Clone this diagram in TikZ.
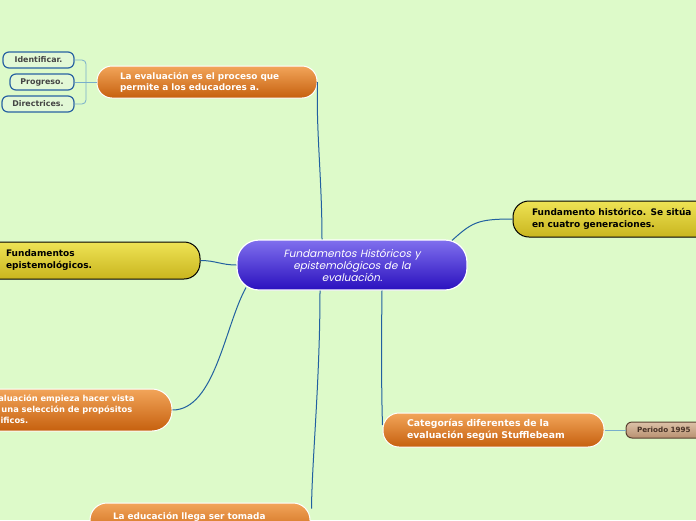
\documentclass[tikz,border=0pt]{standalone}
\usepackage{fontspec}
\setmainfont{DejaVu Sans}
\newfontfamily\centralfont[FakeSlant=0.2]{Poppins}
\usetikzlibrary{calc}
\definecolor{bgcol}{HTML}{DDFAC9}
\definecolor{purtop}{HTML}{8070EE}
\definecolor{purbot}{HTML}{2A10BE}
\definecolor{ortop}{HTML}{F2A55A}
\definecolor{orbot}{HTML}{C6600E}
\definecolor{yetop}{HTML}{EEE355}
\definecolor{yebot}{HTML}{C9B51E}
\definecolor{petop}{HTML}{DCC2A8}
\definecolor{pebot}{HTML}{B89070}
\definecolor{peline}{HTML}{5A4030}
\definecolor{conn}{HTML}{2160A0}
\definecolor{lconn}{HTML}{78AECB}
\definecolor{smfill}{HTML}{E2F8D6}
\definecolor{smline}{HTML}{2962A2}
\definecolor{smtext}{HTML}{444444}
\tikzset{
  box/.style={rectangle, inner sep=0pt, align=left},
  centralbox/.style={box, top color=purtop, bottom color=purbot, draw=white, line width=1.2pt,
     rounded corners=22pt, minimum width=230pt, minimum height=50pt, text width=180pt, align=center,
     text=white, font=\centralfont\fontsize{10.5}{10.5}\selectfont},
  orangebox/.style={box, top color=ortop, bottom color=orbot, draw=white, line width=1pt,
     rounded corners=15pt, text=white, font=\bfseries\fontsize{8.9}{11}\selectfont},
  yellowbox/.style={box, top color=yetop, bottom color=yebot, draw=black, line width=1pt,
     rounded corners=16pt, text=black, font=\bfseries\fontsize{9}{12}\selectfont},
  smallbox/.style={box, fill=smfill, draw=smline, line width=1.2pt, rounded corners=6pt,
     minimum height=16pt, text=smtext, align=center, font=\bfseries\fontsize{7.9}{8}\selectfont},
  perbox/.style={box, top color=petop, bottom color=pebot, draw=peline, line width=1pt,
     rounded corners=6pt, minimum height=16pt, text=peline!80!black, font=\bfseries\fontsize{7.2}{8}\selectfont},
  link/.style={draw=conn, line width=1pt},
  llink/.style={draw=lconn, line width=0.8pt},
}
\begin{document}
\begin{tikzpicture}[x=1pt,y=-1pt]
\useasboundingbox (0,0) rectangle (696,520);
\clip (0,0) rectangle (696,520);
\fill[bgcol] (0,0) rectangle (696,520);

% nodes
\node[centralbox] (c) at (352,265) {Fundamentos Históricos y\\epistemológicos de la\\evaluación.};
\node[orangebox, minimum width=220pt, minimum height=32pt, text width=174pt] (n1) at (207,82)
  {La evaluación es el proceso que\\permite a los educadores a.};
\node[smallbox, minimum width=71pt] (s1) at (38.5,60) {Identificar.};
\node[smallbox, minimum width=64pt] (s2) at (42,82) {Progreso.};
\node[smallbox, minimum width=72pt] (s3) at (38,104) {Directrices.};
\node[yellowbox, minimum width=217pt, minimum height=36pt, text width=179pt] (y1) at (621.5,219)
  {Fundamento histórico. Se sitúa\\en cuatro generaciones.};
\node[yellowbox, minimum width=220pt, minimum height=37pt, text width=168pt] (y2) at (90,260.5)
  {Fundamentos\\epistemológicos.};
\node[orangebox, rounded corners=20pt, minimum width=236pt, minimum height=42pt,
  font=\bfseries\fontsize{8.3}{11}\selectfont] (b1) at (54,410)
  {La evaluación empieza hacer vista\\como una selección de propósitos\\especificos.};
\node[orangebox, rounded corners=16pt, minimum width=221pt, minimum height=34pt, text width=173pt,
  font=\bfseries\fontsize{9.3}{12}\selectfont] (b2) at (493.5,430)
  {Categorías diferentes de la\\evaluación según Stufflebeam};
\node[perbox, minimum width=94pt, text width=72pt] (p) at (673,430) {Periodo 1995};
\node[orangebox, rounded corners=17pt, minimum width=220pt, minimum height=37pt, text width=174pt] (b3) at (200,521.5)
  {La educación llega ser tomada\\\mbox{}};

% connectors
\draw[link] ($(c.north)+(-30,0)$) .. controls +(0,-60) and (316,130) .. (n1.east);
\draw[link] ($(c.north)+(100,1)$) .. controls +(20,-18) and +(-35,0) .. (y1.west);
\draw[link] (y2.east) .. controls +(15,0) and +(-15,0) .. (c.west);
\draw[link] ($(c.south)+(-106,-3)$) .. controls (225,325) and (215,410) .. (b1.east);
\draw[link] ($(c.south)+(-32,0)$) .. controls (320,380) and (312,460) .. ($(b3.north east)+(1,6)$);
\draw[link] ($(c.south)+(30,0)$) .. controls (381,370) and (382,410) .. ($(b2.west)+(0,-5)$);
\draw[llink] (b2.east) -- (p.west);
\draw[llink] (s2.east) -- (n1.west);
\draw[llink, rounded corners=4pt] (s1.east) -| (86,82);
\draw[llink, rounded corners=4pt] (s3.east) -| (86,82);
\end{tikzpicture}
\end{document}
